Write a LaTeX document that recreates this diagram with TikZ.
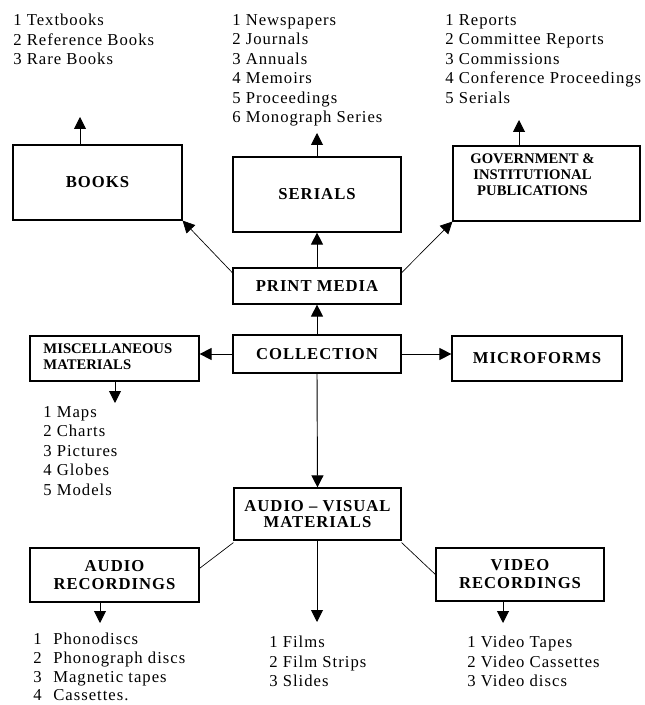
\documentclass[tikz,border=0pt]{standalone}
\usepackage{fontspec}
\setmainfont{Liberation Serif}[LetterSpace=6]
\newfontfamily\tightserif{Liberation Serif}
\usetikzlibrary{arrows.meta}
\tikzset{
  box/.style={rectangle, draw=black, line width=0.9pt, align=center, inner sep=2pt, font=\fontsize{12.5}{13.5}\selectfont\bfseries},
  boxsize/.style 2 args={minimum width=#1, minimum height=#2},
  smallbox/.style={box, font=\tightserif\fontsize{11}{12}\selectfont\bfseries},
  list/.style={anchor=north west, align=left, inner sep=0pt, font=\fontsize{12.5}{14.6}\selectfont},
  arr/.style={-{Triangle[length=9pt,width=9pt]}, line width=0.7pt},
  link/.style={line width=0.5pt}
}

\begin{document}
\begin{tikzpicture}[x=0.75pt,y=-0.75pt]
  \useasboundingbox (0,0) rectangle (644,705);

  % Print media branch
  \node[box, boxsize={126.75pt}{56.25pt}] (BOOKS) at (97.5,182.5) {BOOKS};
  \node[box, boxsize={126pt}{56.25pt}] (SERIALS) at (317,194.5) {SERIALS};
  \node[smallbox, boxsize={140.25pt}{56.25pt}] (GOV) at (546.5,183.5)
    {\begin{tabular}{@{}c@{}}GOVERNMENT \&\\INSTITUTIONAL\\PUBLICATIONS\rule[-14pt]{0pt}{0pt}\end{tabular}\kern21pt};
  \node[box, boxsize={126pt}{27pt}] (PRINT) at (317,286) {PRINT MEDIA};

  % Centre row
  \node[box, boxsize={126pt}{28.5pt}] (COLL) at (317,354) {COLLECTION};
  \node[smallbox, boxsize={126.75pt}{33.75pt}] (MISC) at (114.5,358.5)
    {\begin{tabular}{@{}l@{}}MISCELLANEOUS\\MATERIALS\end{tabular}\kern10pt};
  \node[box, boxsize={127.5pt}{33.75pt}] (MICRO) at (537,358.5) {MICROFORMS};

  % Audio-visual branch
  \node[box, boxsize={125.25pt}{39pt}, font=\fontsize{12.5}{11.5}\selectfont\bfseries] (AV) at (317.5,514) {AUDIO -- VISUAL\\MATERIALS};
  \node[box, boxsize={126.75pt}{40.5pt}] (AUDIO) at (114.5,575) {AUDIO\\RECORDINGS};
  \node[box, boxsize={126pt}{39.75pt}] (VIDEO) at (520,574.5) {VIDEO\\RECORDINGS};

  % Lists
  \node[list] (booksList) at (13,14) {1 Textbooks\\2 Reference Books\\3 Rare Books};
  \node[list] (serialsList) at (232,14) {1 Newspapers\\2 Journals\\3 Annuals\\4 Memoirs\\5 Proceedings\\6 Monograph Series};
  \node[list] (govList) at (445,14) {1 Reports\\2 Committee Reports\\3 Commissions\\4 Conference Proceedings\\5 Serials};
  \node[list] (miscList) at (43,406) {1 Maps\\2 Charts\\3 Pictures\\4 Globes\\5 Models};
  \node[list, font=\fontsize{12.5}{14}\selectfont] (audioList) at (33,633) {\makebox[15pt][l]{1}Phonodiscs\\\makebox[15pt][l]{2}Phonograph discs\\\makebox[15pt][l]{3}Magnetic tapes\\\makebox[15pt][l]{4}Cassettes.};
  \node[list] (filmList) at (269,636) {1 Films\\2 Film Strips\\3 Slides};
  \node[list] (videoList) at (467,636) {1 Video Tapes\\2 Video Cassettes\\3 Video discs};

  % Arrow ends
  \coordinate (booksTip) at (80,117);
  \coordinate (serialsTip) at (317,133);
  \coordinate (govTip) at (519,120);
  \coordinate (miscTip) at (115,403);
  \coordinate (audioTip) at (100,623);
  \coordinate (filmTip) at (317,622);
  \coordinate (videoTip) at (503,623);

  % Connectors
  \draw[arr] (COLL.north) -- (PRINT.south);
  \draw[arr] (PRINT.north) -- (SERIALS.south);
  \draw[arr, link] ([yshift=-4pt]PRINT.north west) -- (BOOKS.south east);
  \draw[arr, link] ([yshift=-4pt]PRINT.north east) -- (GOV.south west);
  \draw[arr] (COLL.west) -- (COLL.west -| MISC.east);
  \draw[arr] (COLL.east) -- (COLL.east -| MICRO.west);
  \draw[arr] (COLL.south) -- (AV.north);
  \draw[link] ([yshift=-1.5pt]AV.south west) -- ([yshift=5pt]AUDIO.east);
  \draw[link] ([yshift=-1.5pt]AV.south east) -- (VIDEO.west);

  \draw[arr] (booksTip |- BOOKS.north) -- (booksTip);
  \draw[arr] (serialsTip |- SERIALS.north) -- (serialsTip);
  \draw[arr] (govTip |- GOV.north) -- (govTip);
  \draw[arr] (miscTip |- MISC.south) -- (miscTip);
  \draw[arr] (audioTip |- AUDIO.south) -- (audioTip);
  \draw[arr] (filmTip |- AV.south) -- (filmTip);
  \draw[arr] (videoTip |- VIDEO.south) -- (videoTip);
\end{tikzpicture}
\end{document}
